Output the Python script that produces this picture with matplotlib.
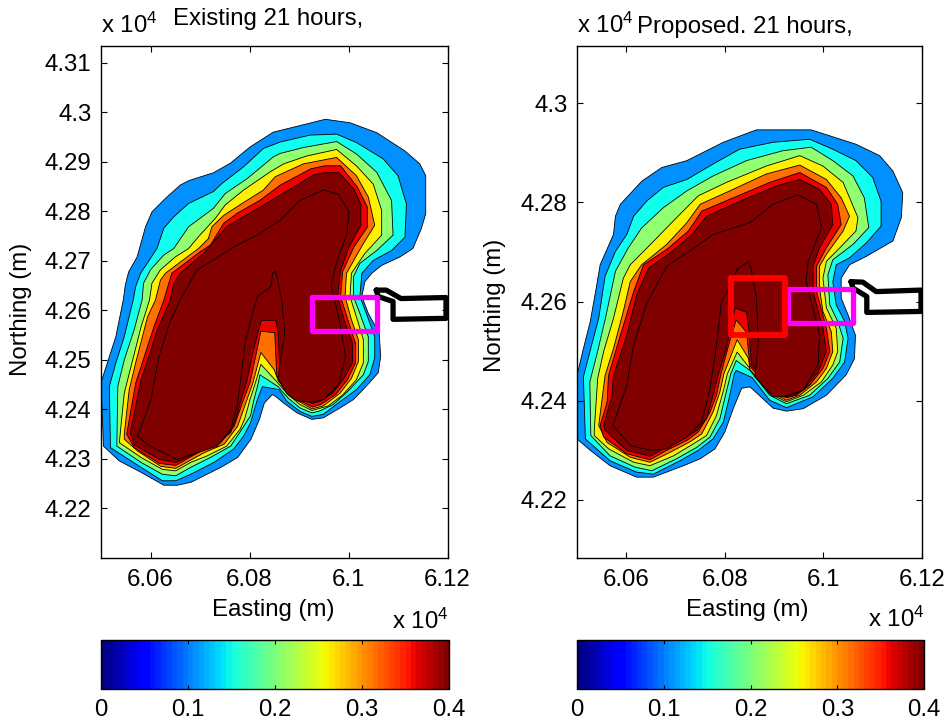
import numpy as np
import matplotlib
matplotlib.use("Agg")
import matplotlib.pyplot as plt
from matplotlib.cm import ScalarMappable
from matplotlib.colors import Normalize
from matplotlib.ticker import FuncFormatter

plt.rcParams['font.family'] = ['Liberation Sans', 'DejaVu Sans']
plt.rcParams['mathtext.fontset'] = 'custom'
plt.rcParams['mathtext.rm'] = 'Liberation Sans'
plt.rcParams['mathtext.default'] = 'regular'

# contour outlines, (easting m, northing m)
ex_blue = [(60505,42326),(60500,42454),(60517,42507),(60530,42547),(60545,42621),(60549,42651),(60556,42678),(60573,42708),(60590,42769),(60603,42799),(60630,42826),(60660,42853),(60677,42862),(60727,42878),(60761,42897),(60801,42930),(60848,42960),(60909,42975),(60953,42986),(61003,42979),(61057,42959),(61114,42922),(61144,42896),(61156,42872),(61156,42795),(61147,42765),(61130,42725),(61104,42708),(61067,42691),(61047,42675),(61033,42658),(61027,42628),(61040,42594),(61062,42554),(61065,42507),(61060,42474),(61036,42447),(61010,42420),(60983,42403),(60949,42383),(60926,42380),(60896,42393),(60869,42413),(60852,42427),(60846,42430),(60830,42413),(60820,42380),(60803,42340),(60776,42303),(60742,42283),(60682,42253),(60654,42247),(60627,42247),(60581,42273),(60537,42296)]
ex_cyan = [(60519,42323),(60517,42447),(60530,42494),(60547,42547),(60565,42621),(60570,42648),(60580,42675),(60613,42725),(60627,42766),(60647,42789),(60677,42816),(60727,42840),(60744,42856),(60788,42890),(60828,42927),(60862,42940),(60922,42954),(60976,42956),(61016,42939),(61070,42906),(61100,42872),(61117,42815),(61114,42748),(61087,42721),(61050,42701),(61027,42675),(61023,42628),(61036,42594),(61053,42547),(61053,42504),(61043,42470),(61016,42440),(60979,42413),(60949,42390),(60926,42386),(60902,42396),(60875,42417),(60860,42440),(60826,42446),(60816,42420),(60802,42373),(60788,42346),(60768,42320),(60728,42293),(60681,42269),(60651,42256),(60624,42256),(60581,42283)]
ex_green = [(60532,42326),(60534,42447),(60547,42500),(60567,42561),(60583,42621),(60586,42655),(60600,42682),(60627,42712),(60647,42725),(60677,42769),(60727,42806),(60751,42836),(60795,42866),(60848,42910),(60862,42917),(60909,42929),(60976,42941),(61016,42916),(61057,42879),(61087,42822),(61090,42752),(61057,42721),(61023,42695),(61010,42668),(61010,42628),(61023,42594),(61040,42547),(61040,42497),(61030,42470),(60999,42437),(60969,42410),(60942,42397),(60926,42393),(60902,42403),(60878,42423),(60858,42446),(60821,42470),(60818,42454),(60809,42420),(60802,42387),(60778,42350),(60762,42326),(60721,42303),(60681,42283),(60651,42266),(60624,42269),(60581,42293)]
ex_yellow = [(60537,42333),(60547,42433),(60564,42500),(60581,42567),(60598,42621),(60603,42655),(60620,42682),(60650,42708),(60677,42725),(60697,42749),(60731,42786),(60751,42813),(60788,42843),(60842,42880),(60869,42896),(60916,42912),(60976,42925),(61016,42892),(61050,42855),(61067,42802),(61067,42752),(61033,42715),(61006,42675),(61003,42628),(61016,42587),(61030,42541),(61030,42494),(61016,42460),(60989,42430),(60959,42407),(60926,42398),(60902,42410),(60878,42430),(60856,42455),(60823,42491),(60812,42454),(60801,42420),(60790,42380),(60781,42360),(60754,42326),(60714,42306),(60681,42293),(60651,42276),(60624,42279),(60581,42303)]
ex_orange = [(60547,42350),(60557,42440),(60570,42494),(60594,42587),(60610,42621),(60620,42661),(60630,42675),(60674,42708),(60697,42725),(60717,42745),(60724,42769),(60748,42792),(60785,42816),(60828,42843),(60852,42870),(60909,42896),(60976,42909),(61016,42872),(61040,42829),(61053,42772),(61030,42735),(60996,42675),(60993,42628),(61006,42581),(61020,42541),(61020,42497),(61006,42463),(60983,42433),(60949,42407),(60926,42401),(60902,42415),(60878,42435),(60858,42458),(60850,42480),(60823,42515),(60807,42454),(60795,42420),(60776,42366),(60749,42330),(60709,42313),(60651,42281),(60621,42285),(60574,42316),(60547,42340)]
ex_red = [(60552,42350),(60570,42453),(60607,42567),(60627,42621),(60637,42655),(60643,42675),(60701,42719),(60721,42732),(60748,42776),(60775,42796),(60822,42823),(60862,42853),(60924,42886),(60951,42892),(60984,42892),(61018,42849),(61038,42809),(61038,42768),(61011,42728),(60988,42678),(60984,42628),(61001,42574),(61014,42534),(61014,42494),(60998,42460),(60974,42430),(60944,42410),(60927,42405),(60904,42417),(60880,42440),(60860,42460),(60855,42470),(60851,42555),(60823,42558),(60814,42515),(60801,42454),(60788,42420),(60769,42366),(60742,42333),(60702,42316),(60651,42287),(60618,42291),(60567,42323)]
ex_dark = [(60559,42353),(60581,42460),(60614,42561),(60640,42621),(60647,42655),(60660,42675),(60707,42715),(60754,42769),(60775,42782),(60822,42809),(60862,42833),(60930,42874),(60951,42878),(60981,42878),(61011,42845),(61025,42815),(61025,42772),(61001,42728),(60984,42681),(60978,42628),(60991,42581),(61008,42534),(61008,42494),(60991,42463),(60968,42433),(60944,42417),(60927,42412),(60904,42420),(60880,42443),(60862,42457),(60858,42554),(60853,42580),(60824,42580),(60818,42558),(60807,42515),(60794,42454),(60783,42420),(60774,42386),(60762,42353),(60739,42336),(60695,42313),(60651,42293),(60618,42299),(60567,42329)]
ex_inner = [(60574,42346),(60601,42420),(60617,42507),(60641,42581),(60660,42621),(60694,42682),(60727,42702),(60775,42732),(60815,42752),(60862,42782),(60902,42822),(60949,42843),(60979,42835),(61001,42799),(60997,42755),(60977,42701),(60965,42651),(60980,42587),(60994,42507),(60981,42453),(60951,42420),(60927,42415),(60897,42417),(60877,42430),(60858,42460),(60861,42491),(60871,42555),(60865,42622),(60853,42680),(60847,42675),(60843,42648),(60816,42628),(60806,42594),(60791,42535),(60784,42474),(60775,42407),(60762,42360),(60735,42326),(60653,42299),(60594,42329)]

pr_blue = [(60500,42323),(60500,42451),(60513,42505),(60527,42560),(60539,42627),(60547,42674),(60574,42735),(60578,42772),(60588,42796),(60632,42843),(60672,42870),(60723,42884),(60797,42921),(60864,42946),(60975,42946),(61066,42917),(61114,42894),(61141,42863),(61161,42819),(61158,42769),(61141,42722),(61087,42691),(61053,42674),(61036,42647),(61036,42607),(61050,42573),(61065,42532),(61063,42485),(61046,42452),(61006,42411),(60959,42384),(60925,42379),(60898,42385),(60851,42428),(60834,42425),(60817,42384),(60800,42337),(60780,42303),(60750,42283),(60716,42269),(60655,42246),(60621,42246),(60567,42269),(60527,42300)]
pr_cyan = [(60517,42323),(60513,42448),(60527,42502),(60544,42566),(60557,42651),(60578,42701),(60601,42735),(60615,42772),(60642,42803),(60675,42830),(60723,42846),(60776,42877),(60830,42907),(60898,42921),(60972,42927),(61019,42907),(61066,42884),(61100,42850),(61117,42802),(61117,42752),(61087,42718),(61053,42688),(61026,42674),(61019,42640),(61026,42593),(61043,42560),(61050,42526),(61043,42478),(61019,42445),(60979,42408),(60945,42394),(60925,42386),(60891,42401),(60855,42447),(60823,42461),(60819,42454),(60810,42411),(60797,42357),(60776,42323),(60746,42300),(60709,42279),(60655,42252),(60621,42256),(60567,42279)]
pr_green = [(60528,42330),(60526,42438),(60540,42492),(60557,42563),(60578,42661),(60604,42708),(60631,42748),(60675,42789),(60723,42823),(60776,42853),(60844,42884),(60918,42904),(60975,42911),(61019,42884),(61060,42853),(61083,42809),(61092,42749),(61060,42715),(61019,42684),(61009,42654),(61013,42593),(61029,42560),(61040,42526),(61033,42478),(61009,42445),(60972,42411),(60925,42394),(60891,42411),(60851,42461),(60823,42481),(60812,42454),(60803,42418),(60790,42364),(60770,42327),(60743,42306),(60702,42283),(60652,42259),(60618,42266),(60567,42289)]
pr_yellow = [(60535,42340),(60542,42445),(60554,42499),(60574,42566),(60594,42647),(60608,42674),(60655,42721),(60702,42769),(60746,42813),(60803,42840),(60884,42873),(60952,42894),(60999,42873),(61040,42840),(61070,42769),(61066,42742),(61033,42708),(61006,42681),(60999,42647),(61006,42587),(61026,42546),(61029,42499),(61019,42472),(60996,42438),(60959,42411),(60925,42398),(60891,42414),(60850,42466),(60825,42498),(60805,42454),(60798,42424),(60783,42370),(60763,42330),(60736,42313),(60696,42289),(60648,42269),(60615,42276),(60564,42303),(60535,42330)]
pr_orange = [(60544,42350),(60557,42451),(60574,42505),(60594,42580),(60608,42640),(60631,42674),(60682,42715),(60723,42759),(60750,42796),(60810,42823),(60884,42857),(60952,42875),(61006,42846),(61036,42809),(61053,42772),(61040,42742),(61006,42695),(60992,42671),(60992,42627),(60999,42580),(61016,42539),(61019,42499),(61006,42465),(60986,42438),(60952,42411),(60925,42401),(60891,42418),(60851,42462),(60848,42485),(60825,42523),(60798,42454),(60790,42418),(60776,42377),(60753,42333),(60729,42317),(60689,42296),(60648,42276),(60608,42286),(60561,42316)]
pr_red = [(60547,42350),(60561,42397),(60564,42451),(60588,42532),(60615,42620),(60635,42674),(60682,42705),(60726,42742),(60753,42782),(60817,42809),(60891,42840),(60952,42860),(61006,42830),(61029,42796),(61036,42755),(61006,42708),(60986,42671),(60986,42620),(61006,42546),(61013,42499),(60999,42465),(60972,42431),(60945,42411),(60925,42406),(60891,42421),(60851,42470),(60844,42538),(60823,42563),(60810,42520),(60792,42454),(60783,42411),(60770,42377),(60746,42337),(60723,42320),(60682,42300),(60648,42281),(60601,42293),(60554,42327)]
pr_dark = [(60554,42350),(60571,42411),(60574,42451),(60601,42532),(60621,42613),(60645,42667),(60689,42698),(60733,42735),(60763,42772),(60830,42802),(60905,42833),(60952,42846),(60992,42826),(61016,42796),(61019,42755),(60992,42708),(60979,42671),(60979,42620),(60999,42546),(61006,42499),(60989,42458),(60965,42428),(60942,42411),(60925,42408),(60891,42425),(60854,42472),(60849,42540),(60844,42578),(60821,42587),(60803,42505),(60787,42454),(60778,42418),(60763,42364),(60743,42340),(60716,42323),(60675,42303),(60648,42288),(60601,42300),(60557,42340)]
pr_inner = [(60573,42350),(60601,42431),(60615,42512),(60642,42597),(60682,42671),(60723,42698),(60776,42735),(60851,42759),(60898,42796),(60948,42815),(60986,42796),(60996,42749),(60969,42681),(60965,42640),(60982,42573),(60992,42532),(60989,42472),(60959,42421),(60918,42408),(60898,42408),(60861,42448),(60868,42519),(60864,42607),(60854,42661),(60849,42681),(60824,42664),(60817,42640),(60793,42600),(60783,42512),(60770,42425),(60753,42357),(60723,42327),(60682,42303),(60648,42300),(60608,42310)]

existing_levels = [ex_blue, ex_cyan, ex_green, ex_yellow, ex_orange, ex_red, ex_dark, ex_inner]
proposed_levels = [pr_blue, pr_cyan, pr_green, pr_yellow, pr_orange, pr_red, pr_dark, pr_inner]
level_colors = ['#0090ff', '#10ffef', '#90ff70', '#ffef00', '#ff7000', '#ef0000', '#800000', '#800000']

# structures drawn over the contours
ex_building = [(61056,42641),(61076,42641),(61106,42624),(61197,42626),(61197,42584),(61090,42582),(61090,42618),(61060,42628)]
pr_building = [(61056,42640),(61080,42639),(61107,42620),(61198,42623),(61198,42580),(61088,42578),(61088,42610),(61060,42627)]
ex_magenta = [(60926,42628),(61058,42628),(61058,42559),(60926,42559)]
pr_magenta = [(60928,42625),(61060,42625),(61060,42556),(60928,42556)]
pr_red_box = [(60812,42647),(60923,42647),(60923,42532),(60812,42532)]

x_ticks = [60600, 60800, 61000, 61200]
ex_y_ticks = [42200, 42300, 42400, 42500, 42600, 42700, 42800, 42900, 43000, 43100]
pr_y_ticks = [42200, 42400, 42600, 42800, 43000]
cbar_ticks = [0, 1000, 2000, 3000, 4000]

W, H = 952, 724
FS = 17.3


def px_axes(x0, y0, x1, y1):
    return fig.add_axes([x0/W, 1 - y1/H, (x1 - x0)/W, (y1 - y0)/H])


def closed(pts):
    xs, ys = zip(*pts)
    return list(xs) + [xs[0]], list(ys) + [ys[0]]


def draw_panel(ax, levels, ylim, yticks):
    for pts, col in zip(levels, level_colors):
        xs, ys = closed(pts)
        ax.fill(xs, ys, facecolor=col, edgecolor='black', linewidth=0.6, joinstyle='round')
    ax.set_xlim(60500, 61200)
    ax.set_ylim(*ylim)
    ax.set_xticks(x_ticks)
    ax.set_yticks(yticks)
    fmt = FuncFormatter(lambda v, p: '%g' % (v/1e4))
    ax.xaxis.set_major_formatter(fmt)
    ax.yaxis.set_major_formatter(fmt)
    ax.tick_params(direction='in', top=True, right=True, length=4, width=0.8, labelsize=FS)
    ax.tick_params(axis='x', pad=8)
    ax.tick_params(axis='y', pad=7)
    for s in ax.spines.values():
        s.set_linewidth(1.0)


def draw_box(ax, pts, col, lw):
    xs, ys = closed(pts)
    ax.plot(xs, ys, color=col, linewidth=lw, solid_joinstyle='round', solid_capstyle='round')


def draw_cbar(x0, x1):
    cax = px_axes(x0, 640, x1, 689)
    sm = ScalarMappable(Normalize(0, 4000), plt.get_cmap('jet', 64))
    cb = fig.colorbar(sm, cax=cax, orientation='horizontal')
    cb.set_ticks(cbar_ticks)
    cb.ax.xaxis.set_major_formatter(FuncFormatter(lambda v, p: '%g' % (v/1e4)))
    cb.ax.tick_params(direction='in', top=True, length=3, width=0.8, labelsize=FS, pad=7)
    cb.outline.set_linewidth(1.0)


def label(x, y, s, **kw):
    fig.text(x/W, 1 - y/H, s, fontsize=FS, va='center', **kw)


fig = plt.figure(figsize=(W/100, H/100), dpi=100)

ax1 = px_axes(101, 46, 447.5, 558)
draw_panel(ax1, existing_levels, (42100, 43134), ex_y_ticks)
draw_box(ax1, ex_building, 'black', 3.8)
draw_box(ax1, ex_magenta, '#ff00ff', 3.8)

ax2 = px_axes(577, 46, 922, 558)
draw_panel(ax2, proposed_levels, (42083, 43115), pr_y_ticks)
draw_box(ax2, pr_building, 'black', 3.8)
draw_box(ax2, pr_magenta, '#ff00ff', 3.8)
draw_box(ax2, pr_red_box, '#ff0000', 4.2)

draw_cbar(101, 449)
draw_cbar(577, 924)

label(101, 25, r'x 10$^{4}$')
label(173, 19, 'Existing 21 hours,')
label(577, 25, r'x 10$^{4}$')
label(637, 27, 'Proposed. 21 hours,')
label(273, 610, 'Easting (m)', ha='center')
label(747, 610, 'Easting (m)', ha='center')
label(392, 621, r'x 10$^{4}$')
label(868, 619, r'x 10$^{4}$')
label(21, 309, 'Northing (m)', ha='center', rotation=90)
label(495, 305, 'Northing (m)', ha='center', rotation=90)

fig.savefig('out.png', dpi=100)
